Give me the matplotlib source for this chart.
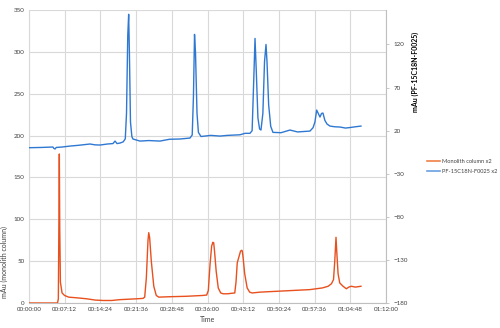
import matplotlib
matplotlib.use("Agg")
import matplotlib.pyplot as plt
from matplotlib.lines import Line2D
from matplotlib.ticker import FixedLocator, FuncFormatter

plt.rcParams['font.family'] = ['Lato', 'DejaVu Sans']

# Monolith column (left axis), time in seconds
mono_t = [0, 300, 345, 355, 362, 367, 372, 380, 400, 430, 480, 600, 700, 800, 900,
          1000, 1100, 1200, 1300, 1380, 1400, 1420, 1440, 1449, 1460, 1480, 1510, 1540, 1570,
          1700, 1900, 2100, 2150, 2170, 2190, 2210, 2225, 2235, 2245, 2265, 2290, 2320, 2350,
          2400, 2490, 2505, 2520, 2540, 2560, 2575, 2581, 2590, 2610, 2640, 2670, 2700, 2800,
          3000, 3200, 3400, 3550, 3620, 3660, 3685, 3700, 3715, 3725, 3740, 3760, 3800, 3840,
          3870, 3900, 3950, 4017]
mono_v = [0, 0, 0, 5, 100, 178, 90, 25, 12, 9, 7, 6, 5, 3.5, 3,
          3, 4, 4.5, 5, 5.5, 7, 30, 75, 84, 78, 50, 20, 9, 7,
          7.5, 8, 9, 9.5, 15, 45, 68, 72.5, 72, 62, 38, 18, 12, 11,
          11, 12, 25, 48, 55, 62, 63, 62, 55, 35, 18, 13, 12, 13,
          14, 15, 16, 18, 20, 23, 28, 50, 78.5, 60, 35, 24, 20, 17,
          19, 20, 19, 20]

# PF-15C18N-F0025 column (right axis)
pf_t = [0, 150, 290, 300, 315, 330, 400, 496, 600, 738, 800, 859, 950, 1016, 1041,
        1065, 1101, 1140, 1165, 1180, 1195, 1206, 1215, 1228, 1245, 1258, 1343, 1450, 1585,
        1700, 1827, 1948, 1975, 1990, 2003, 2015, 2033, 2050, 2081, 2200, 2311, 2400, 2553,
        2614, 2674, 2700, 2720, 2735, 2750, 2770, 2790, 2807, 2830, 2850, 2868, 2880, 2900,
        2925, 2952, 3050, 3158, 3250, 3400, 3437, 3460, 3481, 3500, 3521, 3540, 3557, 3580,
        3606, 3642, 3700, 3763, 3830, 3884, 3950, 4017]
pf_v = [0.2, 0.5, 1, -0.5, -1.3, 0.5, 1, 2.1, 3, 4.5, 3.5, 3.3, 4.5, 5, 7.9,
        5, 5.6, 7, 10.5, 40, 130, 155, 110, 30, 13, 10.3, 7.9, 8.5, 7.9,
        10, 10.3, 11.4, 15, 60, 131.7, 110, 40, 18, 13.2, 14.5, 13.7, 14.5, 15.2,
        16.9, 16.9, 20, 80, 127, 90, 35, 22, 20.7, 40, 100, 120, 100, 50,
        25, 18, 17.6, 20.7, 18.5, 19.5, 23.4, 30, 43.9, 40, 35.8, 40, 40.4, 32,
        27.7, 25.3, 24.5, 24.2, 23, 23.6, 24.5, 25.3]

left_ticks = [0, 50, 100, 150, 200, 250, 300, 350]
right_ticks = [-180, -130, -80, -30, 20, 70, 120]
x_ticks = [0, 432, 864, 1296, 1728, 2160, 2592, 3024, 3456, 3888, 4320]

def hms(s, pos=None):
    s = int(round(s))
    return f"{s//3600:02d}:{(s%3600)//60:02d}:{s%60:02d}"

fig = plt.figure(figsize=(5, 3.28), dpi=100)
ax = fig.add_axes([29/500, 25/328, 357/500, 293/328])
ax2 = ax.twinx()

orange = '#E8501E'
blue = '#2F78D2'
ax.plot(mono_t, mono_v, color=orange, lw=1.0, zorder=3)
ax2.plot(pf_t, pf_v, color=blue, lw=1.0, zorder=3)

ax.set_xlim(0, 4320)
ax.set_ylim(0, 350)
ax2.set_ylim(-180, 160)

ax.xaxis.set_major_locator(FixedLocator(x_ticks))
ax.xaxis.set_major_formatter(FuncFormatter(hms))
ax.yaxis.set_major_locator(FixedLocator(left_ticks))
ax2.yaxis.set_major_locator(FixedLocator(right_ticks))

ax.grid(True, color='#d9d9d9', lw=0.8)
ax.set_axisbelow(True)

for a in (ax, ax2):
    for sp in a.spines.values():
        sp.set_visible(False)
ax.spines['bottom'].set_visible(True)
ax.spines['bottom'].set_color('#bfbfbf')
ax.spines['left'].set_visible(True)
ax.spines['left'].set_color('#d9d9d9')
ax2.spines['right'].set_visible(True)
ax2.spines['right'].set_color('#bfbfbf')

ax.tick_params(axis='both', length=0, labelsize=4.5, colors='#404040', pad=3)
ax2.tick_params(axis='y', length=2.5, width=0.6, color='#bfbfbf', labelsize=4.5,
                labelcolor='#404040', pad=3, direction='out')

ax.set_xlabel('Time', fontsize=5, color='#404040', labelpad=3)
ax.set_ylabel('mAu (monolith column)', fontsize=5, color='#404040')
ax.yaxis.set_label_coords(-0.06, 0.14)
ax2.set_ylabel('mAu (PF-15C18N-F0025)', fontsize=5, color='#000000', fontweight='bold')
ax2.yaxis.set_label_coords(1.073, 0.79)

handles = [Line2D([], [], color='#F08048', lw=1.2),
           Line2D([], [], color='#6A9FE0', lw=1.2)]
fig.legend(handles, ['Monolith column x2', 'PF-15C18N-F0025 x2'],
           loc='upper left', bbox_to_anchor=(0.852, 0.52), frameon=False,
           fontsize=4.1, handlelength=2.3, handletextpad=0.25, labelspacing=1.0,
           borderaxespad=0, borderpad=0.2, labelcolor='#404040')

fig.savefig('out.png', dpi=100)
